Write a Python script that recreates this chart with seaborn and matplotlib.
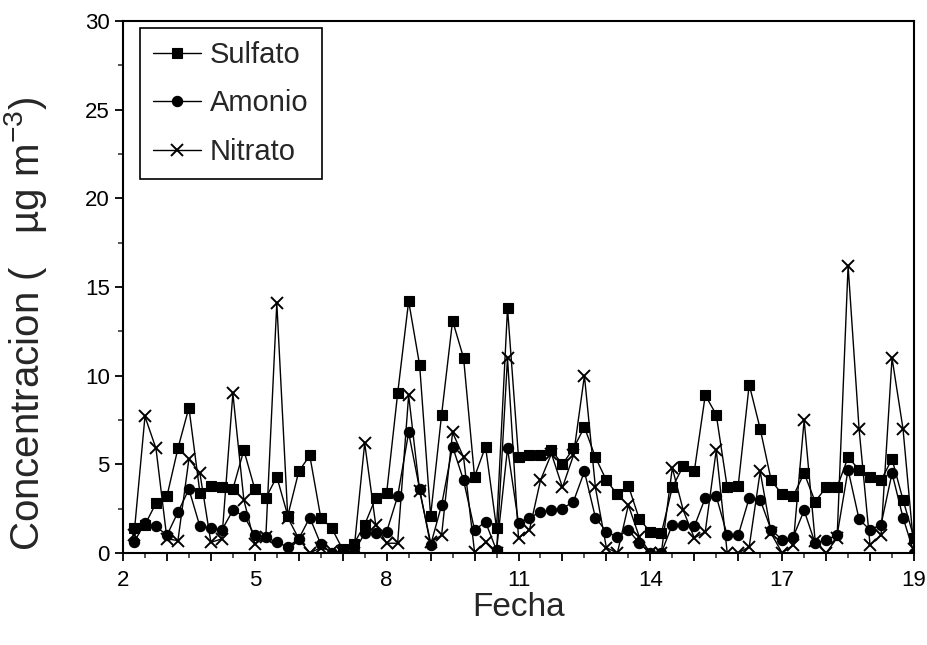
import numpy as np
import pandas as pd
import matplotlib
matplotlib.use("Agg")
import matplotlib.pyplot as plt
from matplotlib.ticker import FixedLocator, FixedFormatter, MultipleLocator
import seaborn as sns

# Sampling times (every 6 h) and concentrations in ug m-3
fecha = [2.25 + 0.25 * k for k in range(72)]

sulfato = [1.4, 1.6, 2.8, 3.2, 5.9, 8.2, 3.4, 3.8, 3.7, 3.6,
           5.8, 3.6, 3.1, 4.3, 2.1, 4.6, 5.5, 2.0, 1.4, 0.2,
           0.5, 1.6, 3.1, 3.4, 9.0, 14.2, 10.6, 2.1, 7.8, 13.1,
           11.0, 4.3, 6.0, 1.4, 13.8, 5.4, 5.5, 5.5, 5.8, 5.0,
           5.9, 7.1, 5.4, 4.1, 3.3, 3.8, 1.9, 1.2, 1.1, 3.7,
           4.9, 4.6, 8.9, 7.8, 3.7, 3.8, 9.5, 7.0, 4.1, 3.3,
           3.2, 4.5, 2.9, 3.7, 3.7, 5.4, 4.7, 4.3, 4.1, 5.3,
           3.0, 0.85]

amonio = [0.6, 1.7, 1.5, 1.0, 2.3, 3.6, 1.5, 1.4, 1.3, 2.4,
          2.1, 1.0, 0.9, 0.6, 0.35, 0.8, 2.0, 0.5, 0.0, 0.05,
          0.05, 1.1, 1.1, 1.2, 3.2, 6.8, 3.6, 0.45, 2.7, 6.0,
          4.1, 1.3, 1.75, 0.15, 5.9, 1.7, 2.0, 2.3, 2.4, 2.5,
          2.9, 4.6, 2.0, 1.2, 0.9, 1.3, 0.55, 0.0, 0.0, 1.6,
          1.6, 1.5, 3.1, 3.2, 1.0, 1.0, 3.1, 3.0, 1.3, 0.75,
          0.9, 2.4, 0.55, 0.75, 1.0, 4.7, 1.9, 1.3, 1.6, 4.5,
          2.0, 0.0]

nitrato = [1.0, 7.7, 5.9, 0.8, 0.7, 5.3, 4.5, 0.6, 0.8, 9.0,
           3.0, 0.5, 0.9, 14.1, 2.0, 0.8, 0.0, 0.3, 0.1, 0.0,
           0.0, 6.2, 1.6, 0.55, 0.55, 8.9, 3.5, 0.6, 1.0, 6.8,
           5.4, 0.05, 0.6, 0.0, 11.0, 0.85, 1.3, 4.1, 5.6, 3.7,
           5.5, 10.0, 3.7, 0.3, 0.0, 2.7, 0.9, 0.0, 0.0, 4.8,
           2.4, 0.85, 1.2, 5.8, 0.0, 0.0, 0.35, 4.6, 1.1, 0.0,
           0.45, 7.5, 0.7, 0.0, 0.85, 16.2, 7.0, 0.45, 1.0, 11.0,
           7.0, 0.2]

x_tick_pos = [2, 5, 8, 11, 14, 17, 20]
x_tick_lab = ["2", "5", "8", "11", "14", "17", "19"]

sns.set_theme(style="ticks")
plt.rcParams["font.family"] = ["Liberation Sans", "DejaVu Sans"]
plt.rcParams["mathtext.fontset"] = "custom"
plt.rcParams["mathtext.rm"] = "Liberation Sans"
plt.rcParams["mathtext.it"] = "Liberation Sans:italic"

df = pd.DataFrame({"Fecha": fecha, "Sulfato": sulfato,
                   "Amonio": amonio, "Nitrato": nitrato})

fig = plt.figure(figsize=(9.27, 6.45), dpi=100)
ax = fig.add_axes([123 / 927, 1 - 553 / 645, (914 - 123) / 927, (553 - 21) / 645])

styles = {
    "Sulfato": dict(marker="s", markersize=6.8, markeredgewidth=0.8),
    "Amonio": dict(marker="o", markersize=7.4, markeredgewidth=0.8),
    "Nitrato": dict(marker="x", markersize=8.5, markeredgewidth=1.4),
}
for name, kw in styles.items():
    sns.lineplot(data=df, x="Fecha", y=name, ax=ax, color="black",
                 linewidth=1.0, label=name, markerfacecolor="black",
                 markeredgecolor="black", **kw)

ax.set_xlim(2, 20)
ax.set_ylim(0, 30)

ax.xaxis.set_major_locator(FixedLocator(list(range(2, 21))))
ax.xaxis.set_major_formatter(FixedFormatter(
    [x_tick_lab[x_tick_pos.index(v)] if v in x_tick_pos else "" for v in range(2, 21)]))
ax.xaxis.set_minor_locator(MultipleLocator(0.5))
ax.yaxis.set_major_locator(MultipleLocator(5))
ax.yaxis.set_minor_locator(MultipleLocator(2.5))

ax.tick_params(which="major", direction="out", length=6, width=1.3,
               labelsize=16, colors="black", top=False, right=False)
ax.tick_params(axis="x", which="major", pad=6)
ax.tick_params(which="minor", direction="out", length=3.5, width=1.1,
               top=False, right=False)

for sp in ax.spines.values():
    sp.set_visible(True)
    sp.set_color("black")
    sp.set_linewidth(1.5)

ax.set_xlabel("Fecha", fontsize=24, labelpad=1)
ax.set_ylabel(r"Concentracion (   µg m$^{-3}$)", fontsize=29)
ax.yaxis.set_label_coords(-0.094, 0.43)

leg = ax.legend(loc="upper left", bbox_to_anchor=(0.0215, 0.987), borderaxespad=0,
                fontsize=21, frameon=True, fancybox=False, framealpha=1,
                edgecolor="black", handlelength=1.65, handletextpad=0.3,
                labelspacing=0.7, borderpad=0.45)
leg.get_frame().set_linewidth(1.2)

fig.savefig("out.png", dpi=100)
